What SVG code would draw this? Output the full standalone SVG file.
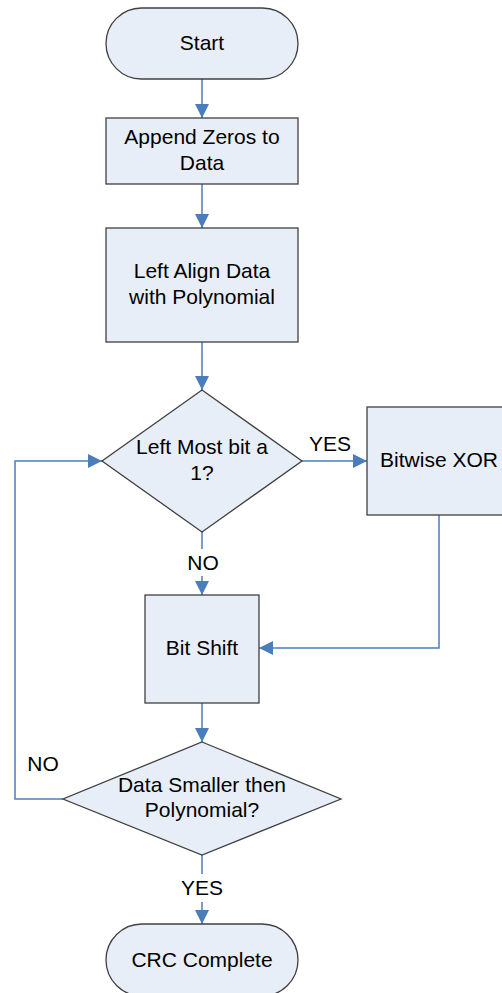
<svg xmlns="http://www.w3.org/2000/svg" width="502" height="993" viewBox="0 0 502 993">
<style>
.n{fill:#E8EEF7;stroke:#404040;stroke-width:1.3}
.t{font-family:"Liberation Sans",Arial,sans-serif;font-size:21px;fill:#000;text-anchor:middle}
.c{fill:none;stroke:#4A7EBB;stroke-width:1.5}
</style>
<defs>
<marker id="a" viewBox="0 0 14 14" refX="14" refY="7" markerWidth="14" markerHeight="14" markerUnits="userSpaceOnUse" orient="auto">
<path d="M0,0 L14,7 L0,14 Z" fill="#4A7EBB"/>
</marker>
</defs>
<rect width="502" height="993" fill="#fff"/>
<g id="connectors">
<line class="c" x1="202" y1="79" x2="202" y2="118" marker-end="url(#a)"/>
<line class="c" x1="202" y1="184" x2="202" y2="228" marker-end="url(#a)"/>
<line class="c" x1="202" y1="342" x2="202" y2="390" marker-end="url(#a)"/>
<line class="c" x1="302" y1="461" x2="367" y2="461" marker-end="url(#a)"/>
<line class="c" x1="202" y1="532" x2="202" y2="549"/>
<line class="c" x1="202" y1="576" x2="202" y2="595" marker-end="url(#a)"/>
<polyline class="c" points="439,515 439,648 259,648" marker-end="url(#a)"/>
<line class="c" x1="202" y1="703" x2="202" y2="742" marker-end="url(#a)"/>
<polyline class="c" points="63,799 15,799 15,461 102,461" marker-end="url(#a)"/>
<line class="c" x1="202" y1="855" x2="202" y2="874"/>
<line class="c" x1="202" y1="902" x2="202" y2="924" marker-end="url(#a)"/>
<text class="t" x="330" y="451">YES</text>
<text class="t" x="203" y="570">NO</text>
<text class="t" x="43" y="771">NO</text>
<text class="t" x="202" y="895">YES</text>
</g>
<g id="start">
<rect class="n" x="106" y="8" width="192" height="71" rx="35.5"/>
<text class="t" x="202" y="50">Start</text>
</g>
<g id="append">
<rect class="n" x="106" y="118" width="192" height="66"/>
<text class="t" x="202" y="144">Append Zeros to</text>
<text class="t" x="202" y="170">Data</text>
</g>
<g id="align">
<rect class="n" x="106" y="228" width="192" height="114"/>
<text class="t" x="202" y="278">Left Align Data</text>
<text class="t" x="202" y="304">with Polynomial</text>
</g>
<g id="leftmost">
<polygon class="n" points="202,390 302,461 202,532 102,461"/>
<text class="t" x="202" y="454">Left Most bit a</text>
<text class="t" x="202" y="480">1?</text>
</g>
<g id="xor">
<rect class="n" x="367" y="407" width="145" height="108"/>
<text class="t" x="439" y="467">Bitwise XOR</text>
</g>
<g id="shift">
<rect class="n" x="145" y="595" width="114" height="108"/>
<text class="t" x="202" y="655">Bit Shift</text>
</g>
<g id="smaller">
<polygon class="n" points="202,742 341,799 202,855 63,799"/>
<text class="t" x="202" y="792">Data Smaller then</text>
<text class="t" x="202" y="817">Polynomial?</text>
</g>
<g id="complete">
<rect class="n" x="106" y="924" width="192" height="72" rx="36"/>
<text class="t" x="202" y="967">CRC Complete</text>
</g>
</svg>
